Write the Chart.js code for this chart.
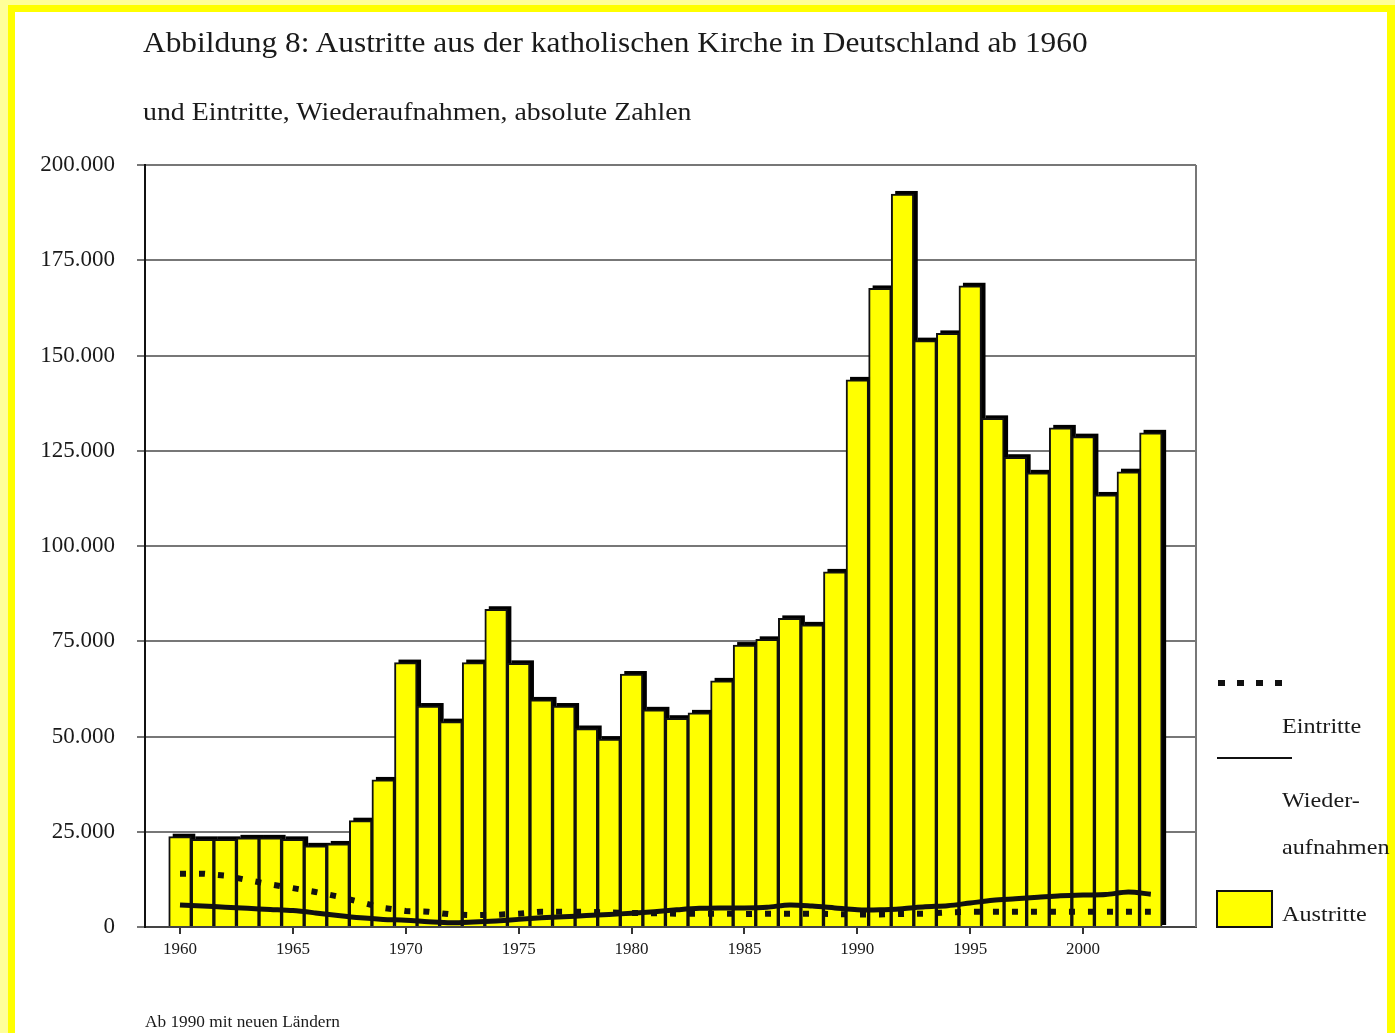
<!DOCTYPE html>
<html>
<head>
<meta charset="utf-8">
<script src="https://cdn.jsdelivr.net/npm/chart.js@4/dist/chart.umd.min.js"></script>
<style>
  html, body { margin: 0; padding: 0; }
  body { width: 1395px; height: 1033px; overflow: hidden; background: #ffff99; position: relative;
         font-family: "Liberation Serif", "DejaVu Serif", serif; color: #1a1a1a; }
  #frame { position: absolute; left: 8px; top: 5px; width: 1387px; height: 1040px; background: #ffff00; }
  #paper { position: absolute; left: 15px; top: 12px; width: 1372px; height: 1030px; background: #fff; }
  #myChart { position: absolute; left: 0; top: 0; }
  .t { position: absolute; white-space: nowrap; line-height: 1; transform-origin: left center; }
</style>
</head>
<body>
<div id="frame"></div>
<div id="paper"></div>
<canvas id="myChart" width="1395" height="1033"></canvas>
<div class="t" style="left:143px; top:28px; font-size:29px; transform:scaleX(1.082);">Abbildung 8: Austritte aus der katholischen Kirche in Deutschland ab 1960</div>
<div class="t" style="left:143px; top:99px; font-size:26px; transform:scaleX(1.07);">und Eintritte, Wiederaufnahmen, absolute Zahlen</div>
<div class="t" style="left:1282px; top:715px; font-size:22px; transform:scaleX(1.1);">Eintritte</div>
<div class="t" style="left:1282px; top:789px; font-size:22px; transform:scaleX(1.1);">Wieder-</div>
<div class="t" style="left:1282px; top:836px; font-size:22px; transform:scaleX(1.1);">aufnahmen</div>
<div class="t" style="left:1282px; top:903px; font-size:22px; transform:scaleX(1.1);">Austritte</div>
<div class="t" style="left:145px; top:1014px; font-size:16px; transform:scaleX(1.08);">Ab 1990 mit neuen Ländern</div>
<script>
const years = [];
for (let y = 1960; y <= 2003; y++) years.push(y);

const austritte = [
  23700, 23000, 23000, 23400, 23400, 23000, 21300, 21800, 27900, 38600,
  69400, 58000, 53900, 69400, 83400, 69200, 59600, 58000, 52100, 49300,
  66400, 57000, 54800, 56200, 64600, 74000, 75500, 81000, 79300, 93200,
  143600, 167600, 192400, 153900, 155800, 168300, 133500, 123300, 119200, 131000,
  128700, 113400, 119500, 129700
];
const eintritte = [
  14000, 14000, 13500, 12300, 11200, 10200, 9200, 8000, 6500, 5000,
  4200, 4000, 3300, 3100, 3200, 3500, 4000, 4000, 4000, 3800,
  3700, 3600, 3500, 3500, 3500, 3400, 3500, 3500, 3500, 3400,
  3300, 3300, 3400, 3500, 3800, 4000, 4000, 4000, 4000, 4000,
  4000, 4000, 4000, 4000
];
const wiederaufnahmen = [
  5800, 5500, 5200, 4900, 4600, 4300, 3700, 3000, 2400, 2000,
  1800, 1400, 1100, 1300, 1600, 2000, 2400, 2700, 3000, 3300,
  3600, 4000, 4500, 4900, 5000, 5000, 5200, 5800, 5500, 5000,
  4500, 4500, 4800, 5300, 5600, 6300, 7000, 7400, 7800, 8200,
  8400, 8500, 9200, 8600
];
const xTicks = [1960, 1965, 1970, 1975, 1980, 1985, 1990, 1995, 2000];

function pts(vals) {
  return years.map((yr, i) => ({ x: yr, y: vals[i] }));
}

// Schatten rechts oben hinter den Balken, Rahmen, Legende
const decor = {
  id: 'decor',
  beforeDatasetsDraw(chart) {
    const ctx = chart.ctx;
    const meta = chart.getDatasetMeta(2);
    ctx.save();
    ctx.fillStyle = '#000';
    meta.data.forEach(el => {
      const p = el.getProps(['x', 'y', 'base', 'width'], true);
      ctx.fillRect(p.x - p.width / 2 + 4, p.y - 3, p.width, p.base - p.y + 2);
    });
    ctx.restore();
  },
  afterDraw(chart) {
    const ctx = chart.ctx;
    const a = chart.chartArea;
    ctx.save();
    ctx.strokeStyle = '#777';
    ctx.lineWidth = 2;
    ctx.beginPath();
    ctx.moveTo(a.right, a.top);
    ctx.lineTo(a.right, a.bottom);
    ctx.stroke();
    // legend symbols
    ctx.fillStyle = '#111';
    [1218, 1237, 1256, 1275].forEach(x => ctx.fillRect(x, 680, 7, 6));
    ctx.fillRect(1217, 757, 75, 2);
    ctx.fillStyle = '#ffff00';
    ctx.fillRect(1217, 891, 55, 36);
    ctx.strokeStyle = '#111';
    ctx.strokeRect(1217, 891, 55, 36);
    ctx.restore();
  }
};

const config = {
  type: 'bar',
  data: {
    datasets: [
      {
        type: 'line',
        label: 'Eintritte',
        data: pts(eintritte),
        borderColor: '#111',
        borderWidth: 6,
        borderDash: [6, 13],
        pointRadius: 0,
        fill: false,
        order: 1
      },
      {
        type: 'line',
        label: 'Wiederaufnahmen',
        data: pts(wiederaufnahmen),
        borderColor: '#111',
        borderWidth: 5,
        pointRadius: 0,
        tension: 0.3,
        fill: false,
        order: 2
      },
      {
        type: 'bar',
        label: 'Austritte',
        data: pts(austritte),
        backgroundColor: '#ffff00',
        borderColor: '#111',
        borderWidth: 2,
        barPercentage: 1,
        categoryPercentage: 1,
        order: 3
      }
    ]
  },
  options: {
    responsive: false,
    animation: false,
    layout: { padding: { left: 0, top: 165, right: 199, bottom: 66 } },
    plugins: {
      legend: { display: false },
      tooltip: { enabled: false }
    },
    scales: {
      x: {
        type: 'linear',
        offset: false,
        min: 1958.45,
        max: 2005,
        afterBuildTicks: s => { s.ticks = xTicks.map(v => ({ value: v })); },
        afterFit: s => { s.height = 40; },
        border: { display: true, color: '#444', width: 2 },
        grid: { offset: false, drawOnChartArea: false, drawTicks: true, tickLength: 7, color: '#333', lineWidth: 2 },
        ticks: {
          padding: 5,
          color: '#1a1a1a',
          font: { family: 'Liberation Serif', size: 17 },
          callback: v => String(v)
        }
      },
      y: {
        min: 0,
        max: 200000,
        afterFit: s => { s.width = 145; },
        border: { display: true, color: '#111', width: 2 },
        grid: { color: '#777', lineWidth: 2, tickLength: 8 },
        ticks: {
          stepSize: 25000,
          padding: 22,
          color: '#1a1a1a',
          font: { family: 'Liberation Serif', size: 23 },
          callback: v => v === 0 ? '0' : v.toLocaleString('de-DE')
        }
      }
    }
  },
  plugins: [decor]
};

new Chart(document.querySelector('#myChart'), config);
</script>
</body>
</html>
